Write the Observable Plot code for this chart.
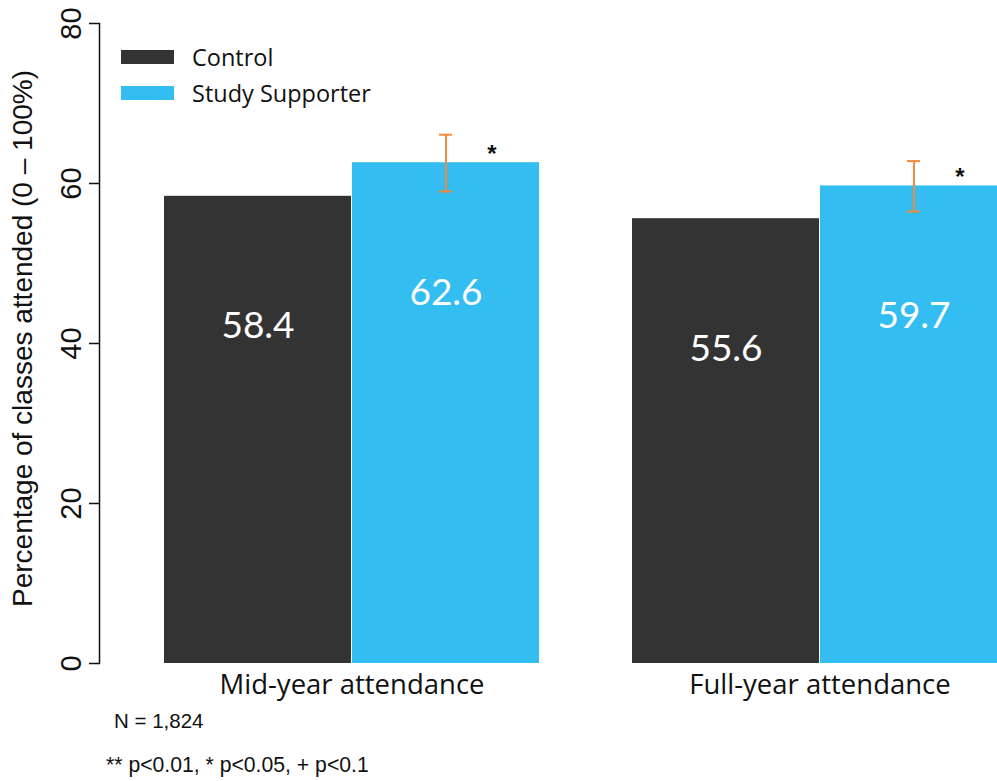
<!DOCTYPE html>
<html>
<head>
<meta charset="utf-8">
<script src="https://cdn.jsdelivr.net/npm/d3@7"></script>
<script src="https://cdn.jsdelivr.net/npm/@observablehq/plot@0.6"></script>
<style>
  html, body { margin: 0; padding: 0; background: white; overflow: hidden; }
  #wrap { position: relative; width: 997px; height: 781px; overflow: hidden; }
  .legend { position: absolute; left: 121px; top: 50px; font-family: "Open Sans", Lato, sans-serif; font-size: 23.5px; color: #111; }
  .legend .row { position: relative; height: 36px; }
  .legend .sw { position: absolute; left: 0; top: 0; width: 53px; height: 14px; }
  .legend .lb { position: absolute; left: 71px; top: -8px; line-height: 30px; white-space: nowrap; }
  .note { position: absolute; font-family: "Liberation Sans", Arial, sans-serif; font-size: 20.5px; color: #111; white-space: nowrap; line-height: 24px; }
</style>
</head>
<body>
<div id="wrap"></div>
<script>
const groups = ["Mid-year attendance", "Full-year attendance"];
const series = ["Control", "Study Supporter"];
const control = [58.4, 55.6];
const supporter = [62.6, 59.7];
const ciLow = [59.0, 56.5];
const ciHigh = [66.1, 62.8];
const signif = ["*", "*"];
const yTicks = [0, 20, 40, 60, 80];
const colors = ["#333333", "#33bdf0"];
const yLabel = "Percentage of classes attended (0 – 100%)";
const notes = ["N = 1,824", "** p<0.01, * p<0.05, + p<0.1"];

const ctrl = groups.map((g, i) => ({group: g, value: control[i]}));
const supp = groups.map((g, i) => ({group: g, value: supporter[i], lo: ciLow[i], hi: ciHigh[i], sig: signif[i]}));

const plot = Plot.plot({
  width: 1072,
  height: 710,
  marginLeft: 99,
  marginRight: 0,
  marginTop: 23,
  marginBottom: 47,
  style: {maxWidth: "none", background: "white", overflow: "visible"},
  x: {domain: groups, paddingInner: 0.1983, paddingOuter: 0.1365, axis: null},
  y: {domain: [0, 80], axis: null},
  marks: [
    Plot.barY(ctrl, {x: "group", y: "value", fill: colors[0], insetRight: 188}),
    Plot.barY(supp, {x: "group", y: "value", fill: colors[1], insetLeft: 188}),
    Plot.text(ctrl, {x: "group", y: "value", text: d => d.value.toFixed(1), dx: -94, dy: 130, fill: "white", fontSize: 37, fontFamily: "Lato, 'Open Sans', sans-serif"}),
    Plot.text(supp, {x: "group", y: "value", text: d => d.value.toFixed(1), dx: 94, dy: 130, fill: "white", fontSize: 37, fontFamily: "Lato, 'Open Sans', sans-serif"}),
    Plot.ruleX(supp, {x: "group", y1: "lo", y2: "hi", dx: 94, stroke: "#f08a3c", strokeWidth: 2}),
    Plot.tickY(supp, {x: "group", y: "lo", dx: 94, insetLeft: 181, insetRight: 181, stroke: "#f08a3c", strokeWidth: 2}),
    Plot.tickY(supp, {x: "group", y: "hi", dx: 94, insetLeft: 181, insetRight: 181, stroke: "#f08a3c", strokeWidth: 2}),
    Plot.text(supp, {x: "group", y: "value", text: "sig", dx: 140, dy: -1, fontSize: 24, fontWeight: "bold", fill: "#111", lineAnchor: "bottom", fontFamily: "'Liberation Sans', Arial, sans-serif"}),
    Plot.axisY({ticks: yTicks, tickSize: 10, tickPadding: 9, tickRotate: -90, fontSize: 29, label: null, fontFamily: "'Liberation Sans', Arial, sans-serif", color: "#111", stroke: "#111", strokeWidth: 1.5}),
    Plot.frame({anchor: "left", stroke: "#111", strokeWidth: 1.5}),
    Plot.text([yLabel], {frameAnchor: "left", rotate: -90, dx: -76, dy: -5, textAnchor: "middle", fontSize: 28, fill: "#111", fontFamily: "'Liberation Sans', Arial, sans-serif"}),
    Plot.axisX({tickSize: 0, tickPadding: 11, fontSize: 27.5, label: null, fontFamily: "'Open Sans', Lato, sans-serif", color: "#111"})
  ]
});

const wrap = document.getElementById("wrap");
wrap.appendChild(plot);

const legend = document.createElement("div");
legend.className = "legend";
series.forEach((s, i) => {
  const row = document.createElement("div");
  row.className = "row";
  const sw = document.createElement("div");
  sw.className = "sw";
  sw.style.background = colors[i];
  const lb = document.createElement("div");
  lb.className = "lb";
  lb.textContent = s;
  row.appendChild(sw); row.appendChild(lb);
  legend.appendChild(row);
});
wrap.appendChild(legend);

const notePos = [{left: 114, top: 709}, {left: 106, top: 753}];
notes.forEach((t, i) => {
  const n = document.createElement("div");
  n.className = "note";
  n.style.fontSize = i === 0 ? "20.5px" : "21.2px";
  n.style.left = notePos[i].left + "px";
  n.style.top = notePos[i].top + "px";
  n.textContent = t;
  wrap.appendChild(n);
});
</script>
</body>
</html>
